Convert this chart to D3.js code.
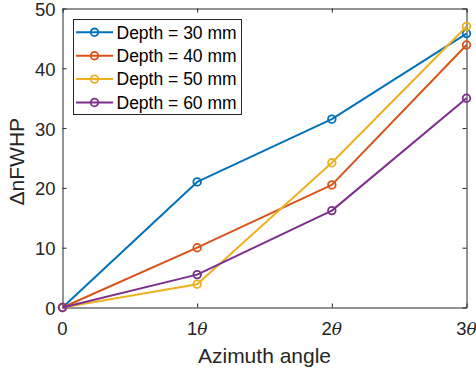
<!DOCTYPE html>
<html>
<head>
<meta charset="utf-8">
<script src="https://cdn.jsdelivr.net/npm/d3@7"></script>
<style>
  body { margin: 0; background: #fff; }
  svg { display: block; }
</style>
</head>
<body>
<div id="chart"></div>
<script>
// azimuth steps, 0 .. 3θ
const angles = [0, 1, 2, 3];
const tickLabels = ["0", "1", "2", "3"];
const yTicks = [0, 10, 20, 30, 40, 50];

const seriesNames = ["Depth = 30 mm", "Depth = 40 mm", "Depth = 50 mm", "Depth = 60 mm"];
const depth30 = [0, 21.0, 31.5, 45.8];
const depth40 = [0, 10.0, 20.5, 43.9];
const depth50 = [0, 3.9, 24.2, 47.0];
const depth60 = [0, 5.5, 16.2, 35.0];
const colors = ["#0072BD", "#D95319", "#EDB120", "#7E2F8E"];

const width = 476, height = 371;
const margin = { top: 8.5, right: 9.5, bottom: 63.5, left: 62.5 };
const axisColor = "#262626";
const font = "'Liberation Sans', Arial, Helvetica, sans-serif";

const svg = d3.select("#chart").append("svg")
    .attr("width", width)
    .attr("height", height);

const x = d3.scaleLinear()
    .domain([0, 3])
    .range([margin.left, width - margin.right]);

const y = d3.scaleLinear()
    .domain([0, 50])
    .range([height - margin.bottom, margin.top]);

const series = [depth30, depth40, depth50, depth60].map((vals, i) => ({
  name: seriesNames[i],
  color: colors[i],
  points: vals.map((v, j) => ({ a: angles[j], v: v }))
}));

// box with inward ticks on all four sides (matlab style)
const tickLen = 4;
svg.append("g")
    .attr("transform", `translate(0,${height - margin.bottom})`)
    .call(d3.axisBottom(x).tickValues(angles).tickSizeInner(-tickLen).tickSizeOuter(0).tickFormat(""))
    .call(g => g.selectAll("path,line").attr("stroke", axisColor));
svg.append("g")
    .attr("transform", `translate(0,${margin.top})`)
    .call(d3.axisTop(x).tickValues(angles).tickSizeInner(-tickLen).tickSizeOuter(0).tickFormat(""))
    .call(g => g.selectAll("path,line").attr("stroke", axisColor));
svg.append("g")
    .attr("transform", `translate(${margin.left},0)`)
    .call(d3.axisLeft(y).tickValues(yTicks).tickSizeInner(-tickLen).tickSizeOuter(0).tickFormat(""))
    .call(g => g.selectAll("path,line").attr("stroke", axisColor));
svg.append("g")
    .attr("transform", `translate(${width - margin.right},0)`)
    .call(d3.axisRight(y).tickValues(yTicks).tickSizeInner(-tickLen).tickSizeOuter(0).tickFormat(""))
    .call(g => g.selectAll("path,line").attr("stroke", axisColor));

// y tick labels
svg.append("g").selectAll("text")
    .data(yTicks)
    .join("text")
    .attr("x", margin.left - 7)
    .attr("y", d => y(d))
    .attr("dy", "0.4em")
    .attr("text-anchor", "end")
    .attr("font-family", font)
    .attr("font-size", 18.5)
    .attr("fill", axisColor)
    .text(d => d);

// x tick labels: number + italic theta
const xl = svg.append("g").selectAll("text")
    .data(angles)
    .join("text")
    .attr("x", d => x(d))
    .attr("y", 335)
    .attr("text-anchor", "middle")
    .attr("font-family", font)
    .attr("font-size", 18.5)
    .attr("fill", axisColor);
xl.append("tspan").text((d, i) => tickLabels[i]);
xl.filter(d => d > 0).append("tspan")
    .attr("font-family", "'DejaVu Serif', 'Liberation Serif', serif")
    .attr("font-style", "italic")
    .attr("font-size", 17)
    .text("\u03B8");

// axis titles
svg.append("text")
    .attr("x", (margin.left + width - margin.right) / 2)
    .attr("y", 363)
    .attr("text-anchor", "middle")
    .attr("font-family", font)
    .attr("font-size", 21)
    .attr("fill", axisColor)
    .text("Azimuth angle");

svg.append("text")
    .attr("transform", `translate(24,161.7) rotate(-90)`)
    .attr("text-anchor", "middle")
    .attr("font-family", font)
    .attr("font-size", 21)
    .attr("fill", axisColor)
    .text("\u0394nFWHP");

// lines + open circle markers
const line = d3.line()
    .x(d => x(d.a))
    .y(d => y(d.v));

const sg = svg.append("g").selectAll("g")
    .data(series)
    .join("g");

sg.append("path")
    .attr("d", d => line(d.points))
    .attr("fill", "none")
    .attr("stroke", d => d.color)
    .attr("stroke-width", 2)
    .attr("stroke-linejoin", "round");

sg.each(function(s) {
  d3.select(this).selectAll("circle")
      .data(s.points)
      .join("circle")
      .attr("cx", d => x(d.a))
      .attr("cy", d => y(d.v))
      .attr("r", 3.8)
      .attr("fill", "none")
      .attr("stroke", s.color)
      .attr("stroke-width", 1.8);
});

// legend
const lg = svg.append("g");
lg.append("rect")
    .attr("x", 73.5)
    .attr("y", 19.5)
    .attr("width", 168)
    .attr("height", 95)
    .attr("fill", "#fff")
    .attr("stroke", axisColor)
    .attr("stroke-width", 1);

const rows = lg.selectAll("g")
    .data(series)
    .join("g")
    .attr("transform", (d, i) => `translate(0,${32.3 + i * 23.4})`);
rows.append("line")
    .attr("x1", 76).attr("x2", 113)
    .attr("stroke", d => d.color)
    .attr("stroke-width", 2);
rows.append("circle")
    .attr("cx", 94.5)
    .attr("r", 3.8)
    .attr("fill", "none")
    .attr("stroke", d => d.color)
    .attr("stroke-width", 1.8);
rows.append("text")
    .attr("x", 116.5)
    .attr("dy", "0.36em")
    .attr("font-family", font)
    .attr("font-size", 17.5)
    .attr("fill", "#000")
    .text(d => d.name);
</script>
</body>
</html>
